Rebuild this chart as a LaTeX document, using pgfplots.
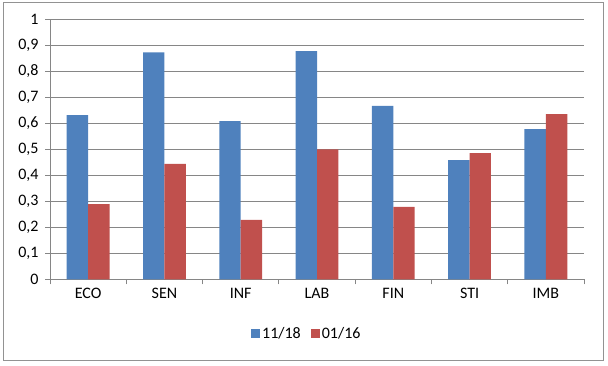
\documentclass[border=0pt]{standalone}
\usepackage{pgfplots}
\pgfplotsset{compat=1.18}
\usepackage{fontspec}
\setmainfont{Carlito}
\definecolor{sblue}{HTML}{4F81BD}
\definecolor{sred}{HTML}{C0504D}
\definecolor{gridc}{HTML}{868686}
\begin{document}
\begin{tikzpicture}[x=1pt,y=1pt]
\path[use as bounding box] (0,0) rectangle (608,365);
\draw[gridc!90,line width=0.8pt] (3,5) rectangle (603,363);
\begin{axis}[
  at={(50pt,85.7pt)}, anchor=south west,
  scale only axis, width=534pt, height=260.3pt,
  xmin=-0.5, xmax=6.5, ymin=0, ymax=1,
  ybar=0pt, bar width=21.4pt,
  xtick={0,1,2,3,4,5,6},
  xticklabels={ECO,SEN,INF,LAB,FIN,STI,IMB},
  minor xtick={-0.5,0.5,1.5,2.5,3.5,4.5,5.5,6.5},
  major x tick style={draw=none},
  minor tick length=5pt,
  major tick length=5pt,
  tick align=outside,
  ytick={0,0.1,...,1},
  ymajorgrids, grid style={gridc, line width=0.8pt},
  axis x line*=bottom, axis y line*=left,
  axis line style={gridc, line width=0.8pt, -},
  every tick/.style={gridc, line width=0.8pt},
  tick label style={font=\fontsize{16}{19}\selectfont, text=black},
  yticklabel style={xshift=-3pt},
  /pgf/number format/.cd, use comma, fixed, precision=1, assume math mode=true,
  /pgfplots/.cd,
  legend style={at={(0.481,-0.21)}, anchor=center, draw=none, legend columns=2,
    font=\fontsize{16}{19}\selectfont, /tikz/every even column/.append style={column sep=8pt}},
  legend image code/.code={\fill[#1] (0pt,-4.5pt) rectangle (9pt,4.5pt);},
]
\addplot[fill=sblue, draw=none] coordinates {(0,0.631) (1,0.872) (2,0.608) (3,0.877) (4,0.666) (5,0.458) (6,0.577)};
\addplot[fill=sred, draw=none] coordinates {(0,0.289) (1,0.443) (2,0.228) (3,0.499) (4,0.278) (5,0.485) (6,0.635)};
\legend{11/18, 01/16}
\end{axis}
\end{tikzpicture}
\end{document}
